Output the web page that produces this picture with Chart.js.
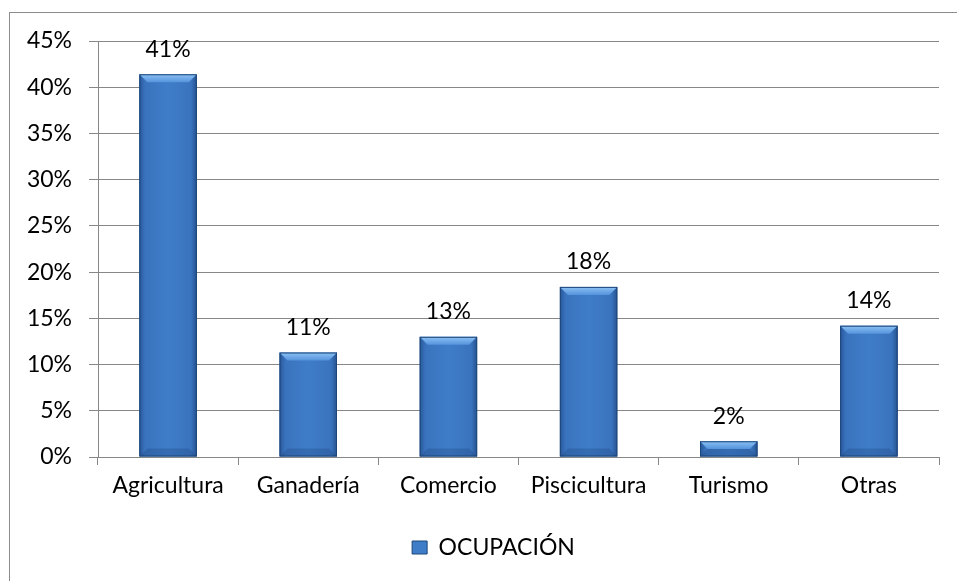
<!DOCTYPE html>
<html>
<head>
<meta charset="utf-8">
<script src="https://cdn.jsdelivr.net/npm/chart.js@4"></script>
<style>
  html, body { margin: 0; padding: 0; background: #fff; overflow: hidden; }
  #wrap { position: relative; width: 957px; height: 581px; }
  #frame { position: absolute; left: 9px; top: 12px; width: 1000px; height: 700px; border: 1px solid #8c8c8c; box-sizing: border-box; }
  #chartCanvas { position: absolute; left: 0; top: 0; }
</style>
</head>
<body>
<div id="wrap">
  <div id="frame"></div>
  <canvas id="chartCanvas" width="957" height="581"></canvas>
</div>
<script>
// chart data
const categories = ['Agricultura', 'Ganadería', 'Comercio', 'Piscicultura', 'Turismo', 'Otras'];
const ocupacion = [41.4, 11.3, 13.0, 18.4, 1.7, 14.2];
const seriesLabel = 'OCUPACIÓN';
const yTicks = [0, 5, 10, 15, 20, 25, 30, 35, 40, 45];

const FONT = 'Lato, "Open Sans", sans-serif';
const FSIZE = 23;
const GRID = '#878787';

// Excel-like bevel on top of each bar
const bevelPlugin = {
    id: 'bevel',
    afterDatasetsDraw(chart) {
        const ctx = chart.ctx;
        chart.getDatasetMeta(0).data.forEach(bar => {
            const l = bar.x - bar.width / 2, r = bar.x + bar.width / 2;
            const t = bar.y, b = bar.base;
            const bv = Math.min(8, (b - t) / 2);
            ctx.save();
            let g = ctx.createLinearGradient(l, 0, r, 0);
            g.addColorStop(0, '#27579a');
            g.addColorStop(0.1, '#3a73bd');
            g.addColorStop(0.5, '#3f7dc9');
            g.addColorStop(0.9, '#3a73bd');
            g.addColorStop(1, '#24528f');
            ctx.fillStyle = g;
            ctx.fillRect(l, t, r - l, b - t);
            // top face
            g = ctx.createLinearGradient(0, t, 0, t + bv);
            g.addColorStop(0, '#8cc2f4');
            g.addColorStop(1, '#5593dc');
            ctx.fillStyle = g;
            ctx.beginPath();
            ctx.moveTo(l, t); ctx.lineTo(r, t); ctx.lineTo(r - bv, t + bv); ctx.lineTo(l + bv, t + bv);
            ctx.closePath(); ctx.fill();
            // bottom face
            ctx.fillStyle = 'rgba(30,70,125,0.3)';
            ctx.beginPath();
            ctx.moveTo(l, b); ctx.lineTo(r, b); ctx.lineTo(r - bv, b - bv); ctx.lineTo(l + bv, b - bv);
            ctx.closePath(); ctx.fill();
            ctx.strokeStyle = '#1d4679';
            ctx.lineWidth = 1;
            ctx.strokeRect(l + 0.5, t + 0.5, r - l - 1, b - t - 1);
            ctx.restore();
        });
    }
};

// value labels above bars
const valueLabels = {
    id: 'valueLabels',
    afterDatasetsDraw(chart) {
        const ctx = chart.ctx;
        ctx.save();
        ctx.font = FSIZE + 'px ' + FONT;
        ctx.fillStyle = '#000';
        ctx.textAlign = 'center';
        ctx.textBaseline = 'middle';
        chart.getDatasetMeta(0).data.forEach((bar, i) => {
            ctx.fillText(Math.round(ocupacion[i]) + '%', bar.x, bar.y - 25);
        });
        ctx.restore();
    }
};

// the legend sits a little right of the plot centre in the original
const legendShift = {
    id: 'legendShift',
    afterLayout(chart) {
        chart.legend.left += 24;
        chart.legend.right += 24;
    }
};

new Chart(document.getElementById('chartCanvas').getContext('2d'), {
    type: 'bar',
    data: {
        labels: categories,
        datasets: [{
            label: seriesLabel,
            data: ocupacion,
            backgroundColor: '#3f7dc9',
            borderColor: '#1d4679',
            borderWidth: 1,
            categoryPercentage: 1,
            barPercentage: 0.41
        }]
    },
    options: {
        responsive: false,
        animation: false,
        layout: { padding: { left: 0, right: 18, top: 41, bottom: 12 } },
        plugins: {
            legend: {
                position: 'bottom',
                labels: {
                    font: { family: FONT, size: FSIZE },
                    color: '#000',
                    boxWidth: 15,
                    boxHeight: 13,
                    padding: 10
                }
            },
            tooltip: { enabled: false }
        },
        scales: {
            x: {
                grid: { offset: true, drawOnChartArea: false, drawTicks: true, tickLength: 8, color: GRID },
                border: { color: GRID },
                ticks: { font: { family: FONT, size: FSIZE }, color: '#000', padding: 7, maxRotation: 0 },
                afterFit: s => { s.height = 69; }
            },
            y: {
                min: 0,
                max: 45,
                afterBuildTicks: s => { s.ticks = yTicks.map(v => ({ value: v })); },
                grid: { color: GRID, tickLength: 9 },
                border: { color: GRID },
                ticks: { font: { family: FONT, size: FSIZE }, color: '#000', padding: 17, callback: v => v + '%' },
                afterFit: s => { s.width = 98; }
            }
        }
    },
    plugins: [bevelPlugin, valueLabels, legendShift]
});
</script>
</body>
</html>
